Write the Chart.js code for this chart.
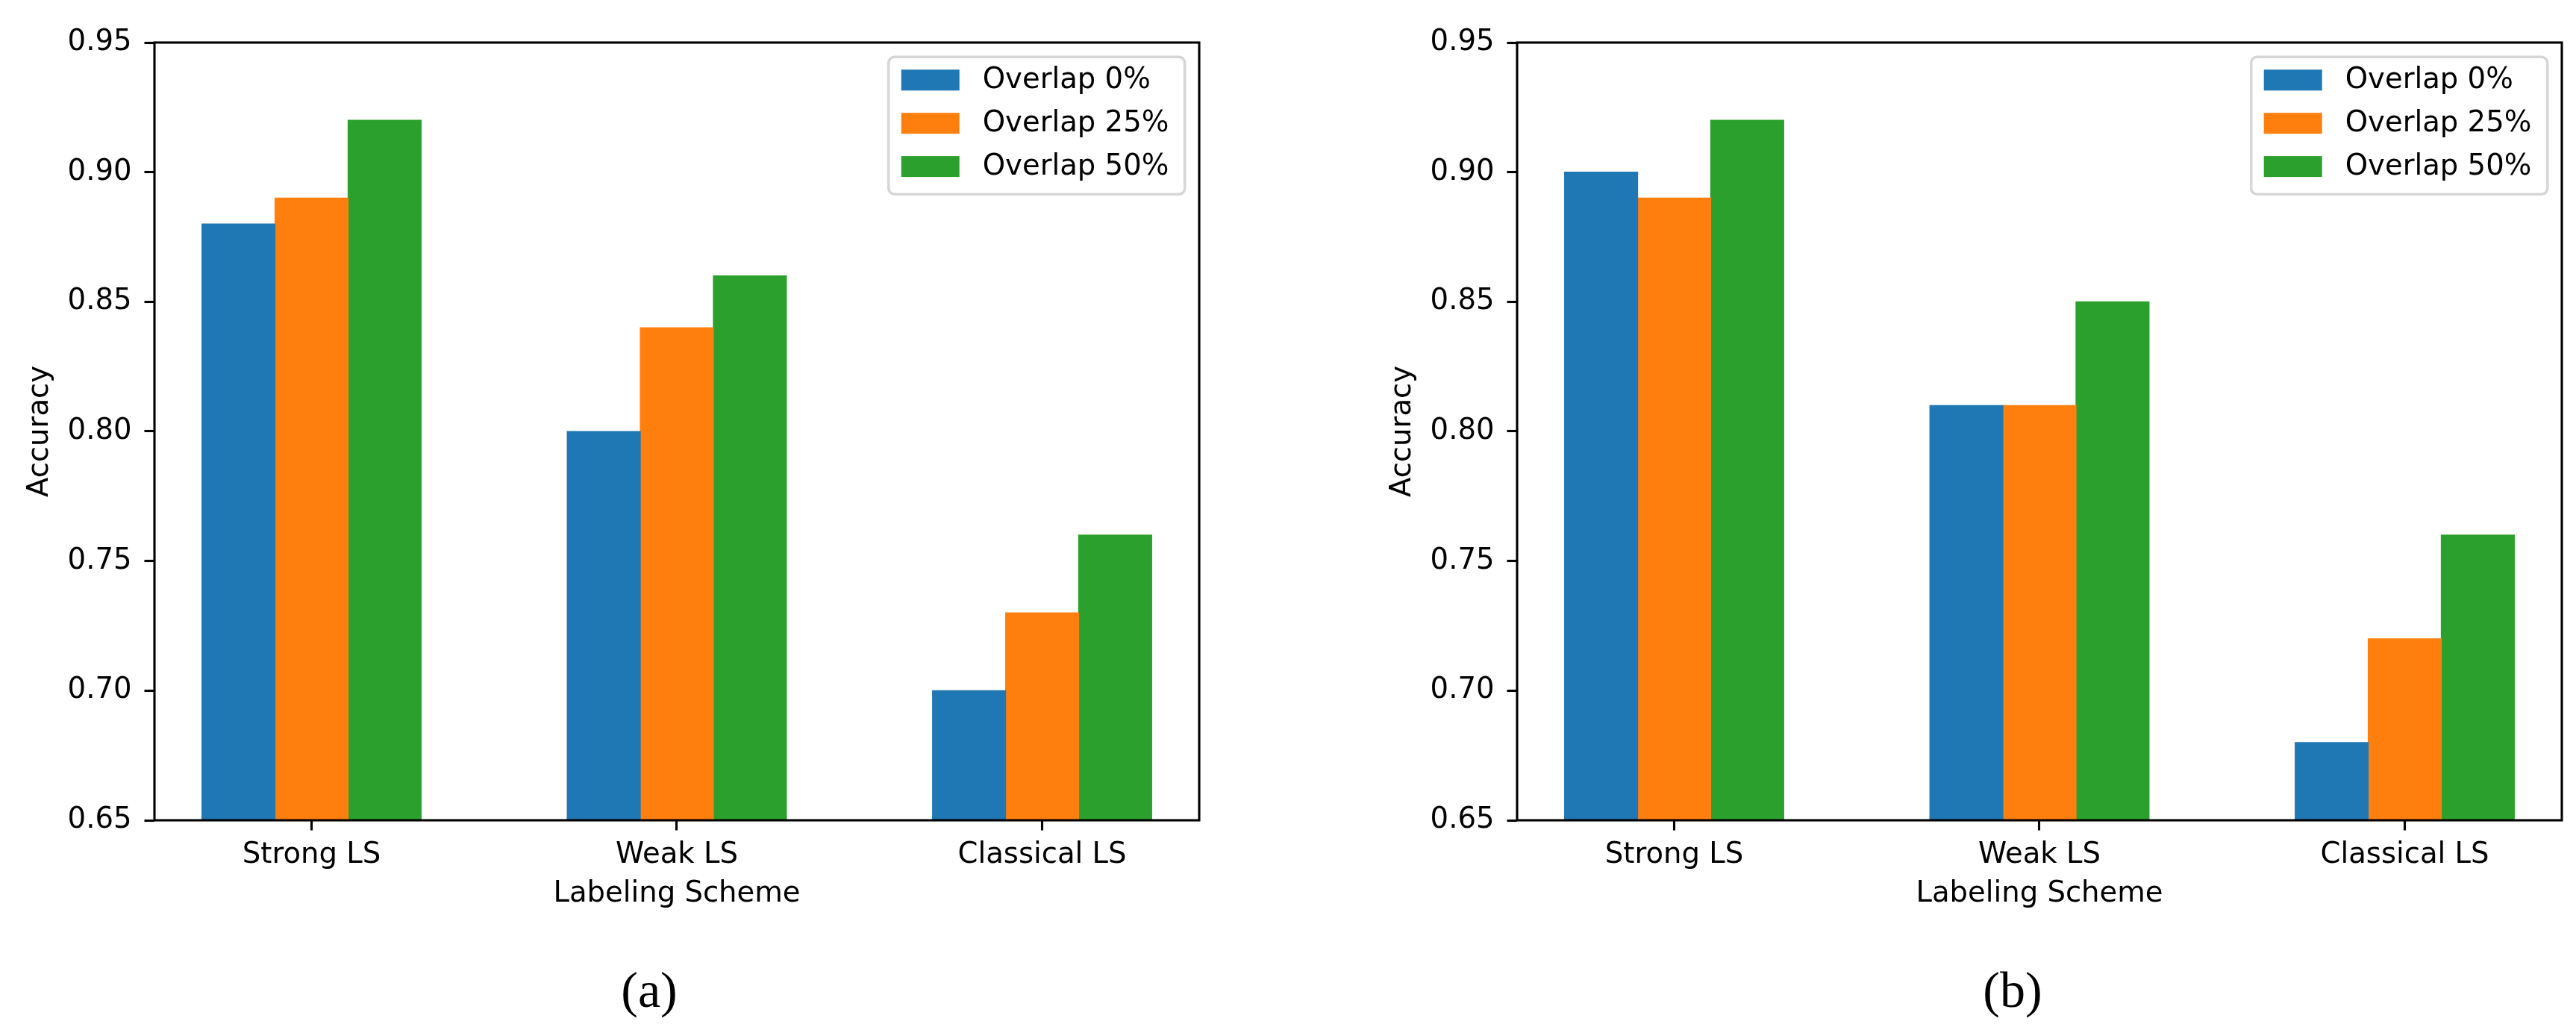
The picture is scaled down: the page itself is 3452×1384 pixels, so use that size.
<!DOCTYPE html>
<html>
<head>
<meta charset="utf-8">
<script src="https://cdn.jsdelivr.net/npm/chart.js@4.4.1/dist/chart.umd.min.js"></script>
<style>
  html, body { margin: 0; padding: 0; background: #fff; }
  body { width: 3452px; height: 1384px; position: relative; overflow: hidden; }
  .panel { position: absolute; top: 0; width: 1626px; height: 1384px; }
  .caption { position: absolute; top: 1292px; width: 200px; text-align: center;
             font-family: "Liberation Serif", "DejaVu Serif", serif; font-size: 68px; line-height: 68px; color: #000; }
</style>
</head>
<body>
<div class="panel" style="left:0"><canvas id="chartA" width="1626" height="1384"></canvas></div>
<div class="panel" style="left:1826px"><canvas id="chartB" width="1626" height="1384"></canvas></div>
<div class="caption" style="left:770px">(a)</div>
<div class="caption" style="left:2597px">(b)</div>
<script>
const schemes = ['Strong LS', 'Weak LS', 'Classical LS'];
const overlapLabels = ['Overlap 0%', 'Overlap 25%', 'Overlap 50%'];
const colors = ['#1f77b4', '#ff7f0e', '#2ca02c'];
const yTicks = [0.65, 0.70, 0.75, 0.80, 0.85, 0.90, 0.95];

// panel (a): accuracy per scheme, one array per overlap
const accA0 = [0.88, 0.80, 0.70];
const accA25 = [0.89, 0.84, 0.73];
const accA50 = [0.92, 0.86, 0.76];

// panel (b)
const accB0 = [0.90, 0.81, 0.68];
const accB25 = [0.89, 0.81, 0.72];
const accB50 = [0.92, 0.85, 0.76];

const FONT = '"DejaVu Sans", sans-serif';
const FS = 38.6;
const LW = 3.1;

// spines drawn over the bars, like matplotlib
const frame = {
  id: 'frame',
  afterDatasetsDraw(chart) {
    const { ctx, chartArea: a } = chart;
    ctx.save();
    ctx.strokeStyle = '#000';
    ctx.lineWidth = LW;
    ctx.strokeRect(a.left, a.top, a.right - a.left, a.bottom - a.top);
    ctx.restore();
  }
};

// legend box in the upper right corner of the plot
const boxLegend = {
  id: 'boxLegend',
  afterDraw(chart) {
    const { ctx, chartArea: a } = chart;
    const w = 397, h = 184;
    const x = a.right - 19.3 - w;
    const y = a.top + 19.3;
    ctx.save();
    ctx.beginPath();
    if (ctx.roundRect) ctx.roundRect(x, y, w, h, 8); else ctx.rect(x, y, w, h);
    ctx.fillStyle = 'rgba(255,255,255,0.8)';
    ctx.fill();
    ctx.lineWidth = 3.5;
    ctx.strokeStyle = 'rgba(204,204,204,0.8)';
    ctx.stroke();
    ctx.font = FS + 'px ' + FONT;
    ctx.textBaseline = 'middle';
    ctx.textAlign = 'left';
    chart.data.datasets.forEach((ds, i) => {
      const cy = y + 31 + i * 57.9;
      ctx.fillStyle = ds.backgroundColor;
      ctx.fillRect(x + 17, cy - 14, 78, 28);
      ctx.fillStyle = '#000';
      ctx.fillText(ds.label, x + 126, cy + 1);
    });
    ctx.restore();
  }
};

function makeChart(id, series) {
  const datasets = series.map((vals, k) => ({
    label: overlapLabels[k],
    data: vals.map((v, i) => ({ x: i, y: v })),
    backgroundColor: colors[k],
    borderWidth: 0,
    inflateAmount: 0.6,
    categoryPercentage: 0.6,
    barPercentage: 1.0
  }));

  new Chart(document.getElementById(id), {
    type: 'bar',
    data: { datasets },
    plugins: [frame, boxLegend],
    options: {
      responsive: false,
      animation: false,
      devicePixelRatio: 1,
      layout: { padding: { left: 0, right: 19, top: 57, bottom: 0 } },
      plugins: { legend: { display: false }, tooltip: { enabled: false } },
      scales: {
        x: {
          type: 'linear',
          min: -0.43,
          max: 2.43,
          offset: false,
          afterBuildTicks: (s) => { s.ticks = schemes.map((c, i) => ({ value: i })); },
          afterFit: (s) => { s.height = 285; },
          ticks: {
            callback: (v) => schemes[v],
            color: '#000',
            font: { family: FONT, size: FS },
            padding: 10,
            maxRotation: 0,
            autoSkip: false
          },
          grid: { offset: false, drawOnChartArea: false, drawTicks: true, tickLength: 13.5, tickColor: '#000', tickWidth: LW },
          border: { display: false },
          title: {
            display: true,
            text: 'Labeling Scheme',
            color: '#000',
            font: { family: FONT, size: FS },
            padding: { top: 0, bottom: 163 }
          }
        },
        y: {
          type: 'linear',
          min: 0.65,
          max: 0.95,
          afterBuildTicks: (s) => { s.ticks = yTicks.map((v) => ({ value: v })); },
          afterFit: (s) => { s.width = 207; },
          ticks: {
            callback: (v) => v.toFixed(2),
            color: '#000',
            font: { family: FONT, size: FS },
            padding: 17
          },
          grid: { drawOnChartArea: false, drawTicks: true, tickLength: 13.5, tickColor: '#000', tickWidth: LW },
          border: { display: false },
          title: {
            display: true,
            text: 'Accuracy',
            color: '#000',
            font: { family: FONT, size: FS },
            padding: { top: 31, bottom: 0 }
          }
        }
      }
    }
  });
}

makeChart('chartA', [accA0, accA25, accA50]);
makeChart('chartB', [accB0, accB25, accB50]);
</script>
</body>
</html>
